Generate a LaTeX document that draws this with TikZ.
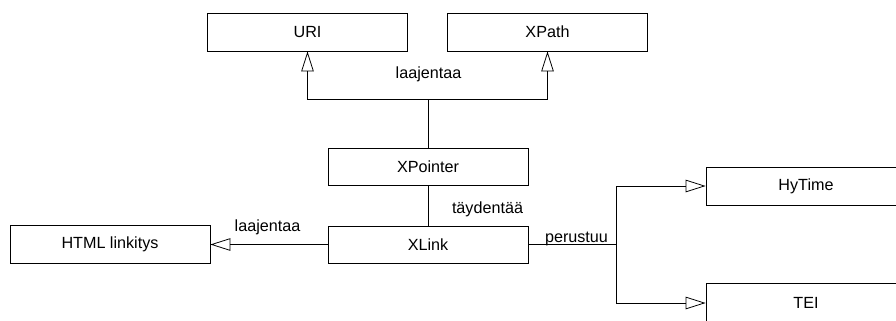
\documentclass[tikz,border=0pt]{standalone}
\usepackage{fontspec}
\setmainfont{Liberation Sans}
\usepackage{tikz}
\usetikzlibrary{positioning}
\usetikzlibrary{arrows.meta}

\tikzset{
  klass/.style={draw, rectangle, line width=0.45pt, minimum width=4cm, minimum height=0.76cm, inner sep=0pt, font=\fontsize{9.2}{11}\selectfont},
  lbl/.style={anchor=base, inner sep=0pt, font=\fontsize{9.2}{11}\selectfont},
  assoc/.style={draw, line width=0.45pt},
  extends/.style={draw, line width=0.45pt, -{Triangle[open, length=0.4cm, width=0.25cm]}}
}

\begin{document}
\begin{tikzpicture}[x=0.02cm, y=-0.02cm]

\useasboundingbox (0,0) rectangle (896,321);
\clip (0,0) rectangle (896,321);

% boxes
\node[klass] (uri) at (307.5,32) {URI};
\node[klass] (xpath) at (547.5,32) {XPath};
\node[klass, minimum height=0.74cm] (xpointer) at (428,166.5) {XPointer};
\node[klass, minimum height=0.74cm] (xlink) at (428,244.5) {XLink};
\node[klass] (html) at (110,244.5) {HTML linkitys};
\node[klass] (hytime) at (806,186) {HyTime};
\node[klass, minimum height=0.8cm] (tei) at (806,303) {TEI};

% forks
\coordinate (jtop) at (428,99);
\coordinate (jright) at (616,244.5);

% XPointer -> URI, XPath
\draw[assoc] (xpointer.north) -- (jtop);
\draw[extends] (jtop) -| (uri.south);
\draw[extends] (jtop) -| (xpath.south);
\node[lbl] (lbltop) at (428.5,78) {laajentaa};

% XPointer -- XLink
\draw[assoc] (xpointer.south) -- (xlink.north);
\node[lbl] (lbltay) at (487.5,213) {täydentää};

% XLink -> HTML
\draw[extends] (xlink.west) -- (html.east);
\node[lbl] (lblhtml) at (267.5,231) {laajentaa};

% XLink -> HyTime, TEI
\draw[assoc] (xlink.east) -- (jright);
\draw[extends] (jright) |- (hytime.west);
\draw[extends] (jright) |- (tei.west);
\node[lbl] (lblper) at (576.5,242) {perustuu};

\end{tikzpicture}
\end{document}
